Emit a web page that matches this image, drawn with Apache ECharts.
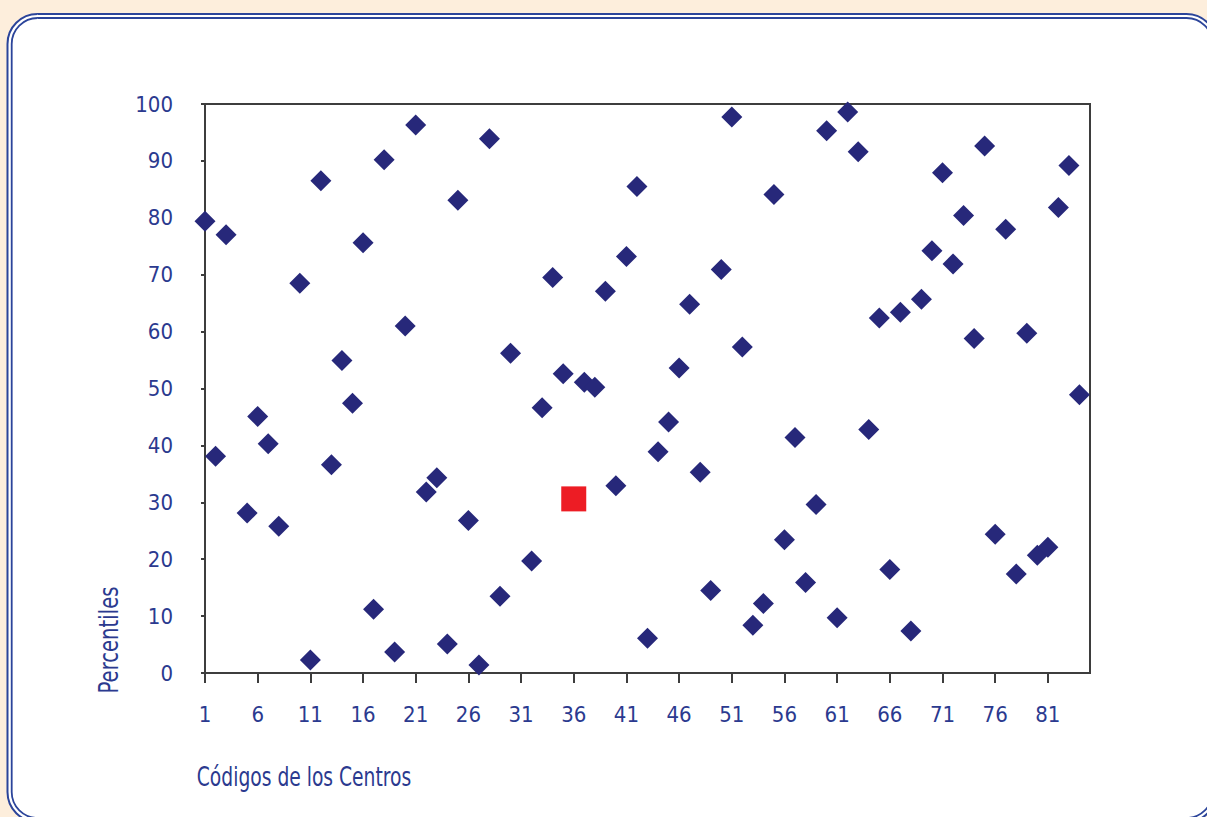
<!DOCTYPE html>
<html>
<head>
<meta charset="utf-8">
<script src="https://cdn.jsdelivr.net/npm/echarts@6/dist/echarts.min.js"></script>
<style>
html,body{margin:0;padding:0;background:#fdeedc;overflow:hidden;}
#chart{width:1207px;height:817px;}
</style>
</head>
<body>
<div id="chart"></div>
<script>
// Axis categories: centre codes 1..85
const axisCodes = Array.from({length: 85}, (_, i) => String(i + 1));
const xTickLabels = ['1','6','11','16','21','26','31','36','41','46','51','56','61','66','71','76','81'];
const yTickLabels = [0,10,20,30,40,50,60,70,80,90,100];

// Centre codes with a plotted percentile (diamonds)
const centerCodes = [1,2,3,5,6,7,8,10,11,12,13,14,15,16,17,18,19,20,
  21,22,23,24,25,26,27,28,29,30,32,33,34,35,37,38,39,40,
  41,42,43,44,45,46,47,48,49,50,51,52,53,54,55,56,57,58,59,60,
  61,62,63,64,65,66,67,68,69,70,71,72,73,74,75,76,77,78,79,80,
  81,82,83,84];
const percentiles = [79.4,38.1,77.0,28.1,45.1,40.3,25.8,68.5,2.3,86.5,36.6,54.9,47.4,75.6,11.2,90.2,3.7,61.0,
  96.3,31.8,34.3,5.1,83.1,26.8,1.4,93.9,13.5,56.2,19.7,46.6,69.5,52.6,51.1,50.2,67.1,32.9,
  73.2,85.5,6.1,38.9,44.1,53.6,64.8,35.3,14.5,70.9,97.7,57.3,8.4,12.2,84.1,23.4,41.4,15.9,29.6,95.3,
  9.7,98.6,91.6,42.8,62.4,18.2,63.4,7.4,65.7,74.2,87.9,71.9,80.4,58.8,92.6,24.4,78.0,17.4,59.7,20.7,
  22.1,81.8,89.2,48.9];

// Highlighted centre (red square)
const highlightCodes = [36];
const highlightPercentiles = [30.6];

const FONT = "'DejaVu Sans Condensed', 'Liberation Sans Narrow', sans-serif";
const TEXT_COLOR = '#2b3a8f';

const chart = echarts.init(document.getElementById('chart'), null, {renderer: 'svg'});
chart.setOption({
  backgroundColor: '#fdeedc',
  animation: false,
  graphic: [
    {type: 'rect', z: -10, shape: {x: 7.5, y: 14, width: 1209, height: 808, r: 30},
     style: {fill: '#ffffff', stroke: '#2b449a', lineWidth: 2}},
    {type: 'rect', z: -9, shape: {x: 11.7, y: 18, width: 1200.8, height: 800, r: 26},
     style: {fill: 'none', stroke: '#2b449a', lineWidth: 1.8}},
    {type: 'text', z: 10, x: 304, y: 777, scaleX: 0.8,
     style: {text: 'Códigos de los Centros', font: '26px ' + FONT, fill: TEXT_COLOR,
             align: 'center', verticalAlign: 'middle'}},
    {type: 'text', z: 10, x: 109, y: 640, rotation: Math.PI / 2, scaleX: 0.84,
     style: {text: 'Percentiles', font: '26px ' + FONT, fill: TEXT_COLOR,
             align: 'center', verticalAlign: 'middle'}}
  ],
  grid: {left: 205, right: 117, top: 104, bottom: 144, show: true,
         borderColor: '#3d3d3d', borderWidth: 2, backgroundColor: '#ffffff'},
  xAxis: {
    type: 'category',
    data: axisCodes,
    boundaryGap: false,
    axisLine: {lineStyle: {color: '#3d3d3d', width: 2}},
    axisTick: {show: true, interval: 4, length: 10, lineStyle: {color: '#3d3d3d', width: 2}},
    axisLabel: {
      interval: 4, margin: 30, color: TEXT_COLOR, fontSize: 22, fontFamily: FONT,
      formatter: v => (xTickLabels.indexOf(v) >= 0 ? v : '')
    },
    splitLine: {show: false}
  },
  yAxis: {
    type: 'value', min: 0, max: 100, interval: 10,
    axisLine: {show: true, lineStyle: {color: '#3d3d3d', width: 2}},
    axisTick: {show: true, length: 4, lineStyle: {color: '#3d3d3d', width: 2}},
    axisLabel: {margin: 32, color: TEXT_COLOR, fontSize: 22, fontFamily: FONT,
      formatter: v => (yTickLabels.indexOf(v) >= 0 ? String(v) : '')},
    splitLine: {show: false}
  },
  series: [
    {
      type: 'scatter',
      symbol: 'diamond',
      symbolSize: 21,
      clip: false,
      itemStyle: {color: '#27287a', opacity: 1},
      data: centerCodes.map((c, i) => [String(c), percentiles[i]])
    },
    {
      type: 'scatter',
      symbol: 'rect',
      symbolSize: 25,
      clip: false,
      z: 3,
      itemStyle: {color: '#ed1c24', opacity: 1},
      data: highlightCodes.map((c, i) => [String(c), highlightPercentiles[i]])
    }
  ]
});
</script>
</body>
</html>
